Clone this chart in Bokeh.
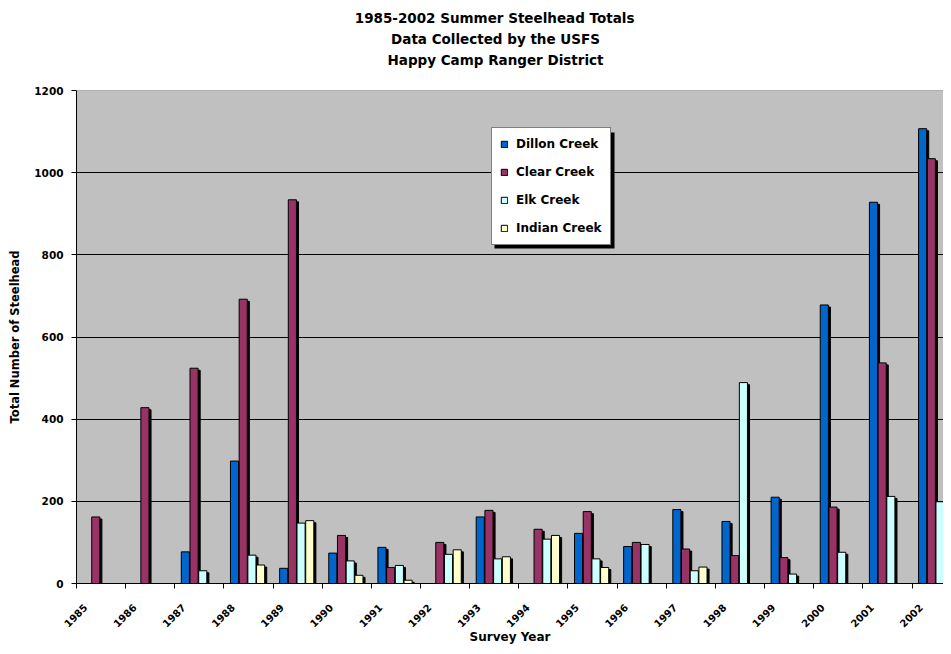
from bokeh.plotting import figure
from bokeh.models import (ColumnDataSource, Range1d, FixedTicker, Title, Legend,
                          LegendItem, Span, BoxAnnotation)
from bokeh.embed import file_html
from bokeh.resources import INLINE

# ---------------- data ----------------
years = ["1985", "1986", "1987", "1988", "1989", "1990", "1991", "1992", "1993",
         "1994", "1995", "1996", "1997", "1998", "1999", "2000", "2001", "2002"]
dillon = [0, 0, 77, 298, 37, 74, 88, 0, 162, 0, 122, 90, 180, 151, 210, 678, 928, 1107]
clear = [162, 428, 524, 692, 934, 117, 39, 100, 178, 132, 175, 100, 84, 68, 63, 186, 537, 1034]
elk = [0, 0, 31, 69, 147, 55, 44, 71, 60, 108, 60, 95, 31, 489, 23, 76, 212, 199]
indian = [0, 0, 0, 45, 153, 20, 8, 82, 65, 117, 39, 0, 40, 0, 0, 0, 0, 0]
series_names = ["Dillon Creek", "Clear Creek", "Elk Creek", "Indian Creek"]
series_values = [dillon, clear, elk, indian]
series_colors = ["#0066CC", "#993366", "#CCFFFF", "#FFFFCC"]
title_lines = ["1985-2002 Summer Steelhead Totals",
               "Data Collected by the USFS",
               "Happy Camp Ranger District"]
y_ticks = [0, 200, 400, 600, 800, 1000, 1200]

FONT = "DejaVu Sans"

p = figure(width=943, height=646, output_backend="svg", toolbar_location=None,
           x_range=Range1d(-0.5, 17.14), y_range=Range1d(0, 1200),
           min_border_left=76, min_border_right=0, min_border_top=90,
           min_border_bottom=63)

p.background_fill_color = "#C0C0C0"
p.border_fill_color = "white"
p.outline_line_color = None

offsets = [-0.285, -0.108, 0.069, 0.246]
bar_w = 0.165
renderers = []
for name, vals, col, off in zip(series_names, series_values, series_colors, offsets):
    xs = [i + off for i, v in enumerate(vals) if v > 0]
    tops = [v for v in vals if v > 0]
    src = ColumnDataSource(dict(x=xs, top=tops,
                                sx=[x + 0.042 for x in xs],
                                stop=[t - 5 for t in tops]))
    p.vbar(x="sx", top="stop", bottom=0, width=bar_w, source=src,
           fill_color="black", line_color="black")
    r = p.vbar(x="x", top="top", bottom=0, width=bar_w, source=src,
               fill_color=col, line_color="black", line_width=1)
    renderers.append((name, r))

# top border of the plot area
p.add_layout(Span(location=1200, dimension="width", line_color="#808080", line_width=1))

# axes
label_pos = [i - 0.32 for i in range(len(years))]
xa = p.xaxis[0]
xa.ticker = FixedTicker(ticks=label_pos,
                        minor_ticks=[i - 0.5 for i in range(len(years) + 1)])
xa.major_label_overrides = {pos: y for pos, y in zip(label_pos, years)}
xa.major_label_orientation = 0.785
xa.major_tick_out = 0
xa.major_tick_in = 0
xa.minor_tick_out = 5
xa.minor_tick_in = 0
xa.minor_tick_line_color = "black"
xa.axis_line_color = "black"
xa.major_label_text_font = FONT
xa.major_label_text_font_style = "bold"
xa.major_label_text_font_size = "10px"
xa.major_label_text_color = "black"
xa.major_label_standoff = 17
xa.axis_label = "Survey Year"
xa.axis_label_text_font = FONT
xa.axis_label_text_font_style = "bold"
xa.axis_label_text_font_size = "12px"
xa.axis_label_text_color = "black"
xa.axis_label_standoff = -4

ya = p.yaxis[0]
ya.ticker = FixedTicker(ticks=y_ticks)
ya.minor_tick_line_color = None
ya.major_tick_out = 5
ya.major_tick_in = 0
ya.major_tick_line_color = "black"
ya.axis_line_color = "black"
ya.major_label_text_font = FONT
ya.major_label_text_font_style = "bold"
ya.major_label_text_font_size = "10.5px"
ya.major_label_text_color = "black"
ya.major_label_standoff = 8
ya.axis_label = "Total Number of Steelhead"
ya.axis_label_text_font = FONT
ya.axis_label_text_font_style = "bold"
ya.axis_label_text_font_size = "11.5px"
ya.axis_label_text_color = "black"
ya.axis_label_standoff = 9

p.xgrid.visible = False
p.ygrid.ticker = FixedTicker(ticks=y_ticks[1:-1])
p.ygrid.grid_line_color = "black"
p.ygrid.grid_line_width = 1

# titles: spacer nearest the frame, then lines from bottom to top
title_size = 13.5
char_w = {"0": 696, "1": 696, "2": 696, "5": 696, "8": 696, "9": 696, "-": 415, " ": 348,
          "S": 720, "u": 712, "m": 1042, "e": 678, "r": 493, "t": 478, "l": 343, "h": 712,
          "a": 675, "d": 716, "T": 682, "o": 687, "s": 595, "D": 830, "C": 734, "c": 593,
          "b": 716, "y": 652, "U": 812, "F": 683, "H": 837, "p": 716, "R": 770, "n": 712,
          "g": 716, "i": 343}
center_x = 495 - 76  # desired text centre, measured from the frame's left edge
p.add_layout(Title(text=" ", standoff=3, text_font=FONT, text_font_size="13.5px"), "above")
for txt in reversed(title_lines):
    w = sum(char_w.get(ch, 650) for ch in txt) * title_size / 1000.0
    p.add_layout(Title(text=txt, align="left", offset=center_x - w / 2, standoff=2.6,
                       text_font=FONT, text_font_style="bold",
                       text_font_size="13.5px", text_color="black"), "above")

# legend drop shadow, then legend
p.add_layout(BoxAnnotation(left=418, right=418 + 120, bottom=335, top=335 + 116,
                           left_units="screen", right_units="screen",
                           bottom_units="screen", top_units="screen",
                           fill_color="black", fill_alpha=1.0, line_color=None))
legend = Legend(items=[LegendItem(label=n, renderers=[r]) for n, r in renderers],
                location=(415, 338), orientation="vertical",
                glyph_width=8, glyph_height=8, label_height=16, spacing=12,
                padding=8, margin=0, label_standoff=8,
                label_text_font=FONT, label_text_font_style="bold",
                label_text_font_size="12px", label_text_color="black",
                border_line_color="black", border_line_width=1,
                background_fill_color="white", background_fill_alpha=1.0)
p.add_layout(legend)

open("out.html", "w").write(file_html(p, INLINE))
